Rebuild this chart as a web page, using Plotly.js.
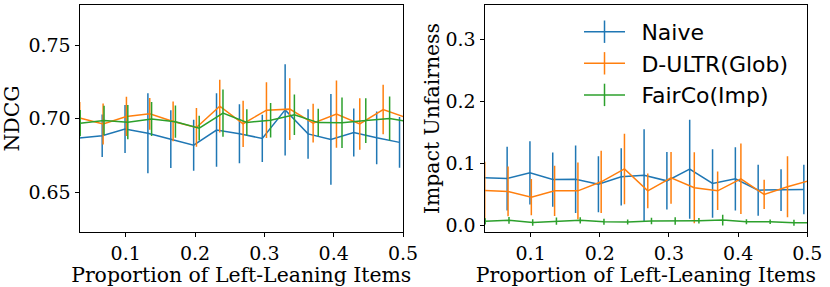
<!DOCTYPE html>
<html>
<head>
<meta charset="utf-8">
<script src="https://cdn.plot.ly/plotly-3.0.1.min.js"></script>
<style>html,body{margin:0;padding:0;background:#fff;}#chart{width:830px;height:287px;}</style>
</head>
<body>
<div id="chart"></div>
<script>
// Proportion of left-leaning items (x values)
var proportion = [0.0333, 0.0667, 0.1, 0.1333, 0.1667, 0.2, 0.2333, 0.2667, 0.3, 0.3333, 0.3667, 0.4, 0.4333, 0.4667, 0.5];

var seriesNames = ["Naive", "D-ULTR(Glob)", "FairCo(Imp)"];

// NDCG
var naiveNdcg      = [0.6868, 0.6884, 0.6930, 0.6902, 0.6861, 0.6820, 0.6923, 0.6898, 0.6866, 0.7061, 0.6897, 0.6859, 0.6907, 0.6870, 0.6839];
var naiveNdcgErr   = [0.0160, 0.0145, 0.0164, 0.0273, 0.0197, 0.0174, 0.0251, 0.0202, 0.0161, 0.0311, 0.0169, 0.0310, 0.0164, 0.0180, 0.0174];
var dultrNdcg      = [0.7005, 0.6964, 0.7016, 0.7034, 0.6982, 0.6941, 0.7086, 0.6966, 0.7059, 0.7066, 0.6970, 0.7032, 0.6965, 0.7063, 0.7008];
var dultrNdcgErr   = [0.0110, 0.0140, 0.0134, 0.0108, 0.0136, 0.0132, 0.0180, 0.0158, 0.0190, 0.0210, 0.0132, 0.0230, 0.0176, 0.0169, 0.0150];
var faircoNdcg     = [0.6970, 0.6989, 0.6977, 0.6998, 0.6980, 0.6936, 0.7039, 0.6975, 0.6990, 0.7028, 0.6974, 0.6973, 0.6988, 0.7002, 0.6974];
var faircoNdcgErr  = [0.0090, 0.0100, 0.0117, 0.0116, 0.0110, 0.0085, 0.0161, 0.0091, 0.0117, 0.0138, 0.0094, 0.0173, 0.0153, 0.0150, 0.0120];

// Impact Unfairness
var naiveImp       = [0.0770, 0.0759, 0.0850, 0.0743, 0.0749, 0.0668, 0.0786, 0.0813, 0.0722, 0.0909, 0.0679, 0.0754, 0.0572, 0.0572, 0.0583];
var naiveImpErr    = [0.0500, 0.0513, 0.0508, 0.0436, 0.0543, 0.0450, 0.0460, 0.0738, 0.0463, 0.0795, 0.0550, 0.0510, 0.0410, 0.0335, 0.0398];
var dultrImp       = [0.0567, 0.0551, 0.0460, 0.0561, 0.0561, 0.0706, 0.0914, 0.0561, 0.0770, 0.0610, 0.0561, 0.0754, 0.0503, 0.0626, 0.0733];
var dultrImpErr    = [0.0460, 0.0400, 0.0290, 0.0403, 0.0455, 0.0500, 0.0567, 0.0280, 0.0415, 0.0570, 0.0310, 0.0567, 0.0235, 0.0490, 0.0400];
var faircoImp      = [0.0070, 0.0086, 0.0053, 0.0075, 0.0086, 0.0064, 0.0059, 0.0075, 0.0075, 0.0080, 0.0090, 0.0064, 0.0064, 0.0048, 0.0048];
var faircoImpErr   = [0.0050, 0.0056, 0.0053, 0.0059, 0.0050, 0.0050, 0.0040, 0.0053, 0.0060, 0.0045, 0.0088, 0.0040, 0.0037, 0.0048, 0.0040];

// Tick values
var ndcgTicks = [0.65, 0.70, 0.75];
var impTicks = [0.0, 0.1, 0.2, 0.3];
var xTicks = [0.1, 0.2, 0.3, 0.4, 0.5];

// style
var colors = ["#1f77b4", "#ff7f0e", "#2ca02c"];
var jitter = [0.99, 1.01, 1.03]; // horizontal dodge factor per series
var serif = "DejaVu Serif, serif";
var sans = "DejaVu Sans, sans-serif";
var legendPad = "\u00a0\u2009"; // extra gap between legend symbol and label

function shifted(f) { return proportion.map(function (v) { return v * f; }); }

function errTrace(i, y, err, xa, ya) {
  return {
    type: "scatter", mode: "lines",
    x: shifted(jitter[i]), y: y,
    xaxis: xa, yaxis: ya,
    line: {color: colors[i], width: 1.5},
    error_y: {type: "data", array: err, visible: true, color: colors[i], thickness: 1.5, width: 0},
    showlegend: false, hoverinfo: "skip"
  };
}

var ndcgData = [[naiveNdcg, naiveNdcgErr], [dultrNdcg, dultrNdcgErr], [faircoNdcg, faircoNdcgErr]];
var impData = [[naiveImp, naiveImpErr], [dultrImp, dultrImpErr], [faircoImp, faircoImpErr]];

var traces = [];
ndcgData.forEach(function (d, i) { traces.push(errTrace(i, d[0], d[1], "x", "y")); });
impData.forEach(function (d, i) { traces.push(errTrace(i, d[0], d[1], "x2", "y2")); });
// legend entries (no data)
seriesNames.forEach(function (n, i) {
  traces.push({
    type: "scatter", mode: "lines+markers", x: [null], y: [null],
    xaxis: "x2", yaxis: "y2", name: legendPad + n, legendgroup: "g" + i,
    line: {color: colors[i], width: 1.5},
    marker: {symbol: "line-ns-open", size: 20, color: colors[i], line: {color: colors[i], width: 1.5}}
  });
});

function xAxis(domain, anchor) {
  return {
    domain: domain, anchor: anchor, range: [proportion[0], proportion[proportion.length - 1]],
    tickvals: xTicks, tickformat: ".1f",
    showline: true, mirror: true, linecolor: "#000", linewidth: 1,
    ticks: "outside", ticklen: 4, tickwidth: 1, tickcolor: "#000",
    showgrid: false, zeroline: false,
    tickfont: {family: serif, size: 19, color: "#000"},
    title: {text: "Proportion of Left-Leaning Items", font: {family: serif, size: 20.4, color: "#000"}, standoff: 4}
  };
}
function yAxis(domain, anchor, range, ticks, fmt, title, standoff) {
  return {
    domain: domain, anchor: anchor, range: range,
    tickvals: ticks, tickformat: fmt,
    showline: true, mirror: true, linecolor: "#000", linewidth: 1,
    ticks: "outside", ticklen: 4, tickwidth: 1, tickcolor: "#000",
    showgrid: false, zeroline: false,
    tickfont: {family: serif, size: 19, color: "#000"},
    title: {text: title, font: {family: serif, size: 20.4, color: "#000"}, standoff: standoff}
  };
}

var layout = {
  width: 830, height: 287,
  margin: {l: 0, r: 0, t: 5, b: 55},
  paper_bgcolor: "#fff", plot_bgcolor: "#fff",
  xaxis: xAxis([79.5 / 830, 403 / 830], "y"),
  yaxis: yAxis([0, 1], "x", [0.6227, 0.7777], ndcgTicks, ".2f", "NDCG", 3),
  xaxis2: xAxis([484.5 / 830, 807.3 / 830], "y2"),
  yaxis2: yAxis([0, 1], "x2", [-0.0101, 0.355], impTicks, ".1f", "Impact Unfairness", 0),
  showlegend: true,
  legend: {
    x: 0.6976, y: 0.974, xanchor: "left", yanchor: "top",
    bgcolor: "rgba(0,0,0,0)", borderwidth: 0,
    font: {family: sans, size: 22, color: "#000"},
    itemwidth: 41, traceorder: "grouped", tracegroupgap: 0
  }
};

Plotly.newPlot("chart", traces, layout, {displayModeBar: false, staticPlot: true});
</script>
</body>
</html>
